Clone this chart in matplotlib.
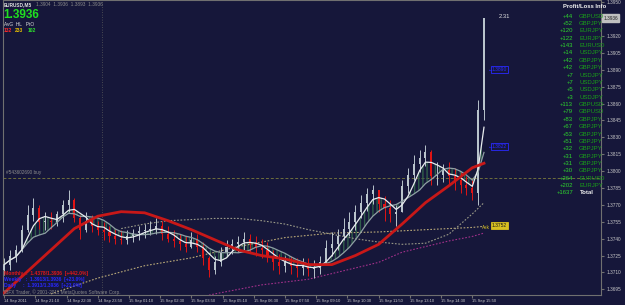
import numpy as np
import pandas as pd
import matplotlib
matplotlib.use("Agg")
import matplotlib.pyplot as plt

# EURUSD M5, sampled as 15-minute bars starting 14 Sep 19:50
highs = [1.3723, 1.3730, 1.3734, 1.3752, 1.3770, 1.3776, 1.3770, 1.3764, 1.3764, 1.3765,
         1.3774, 1.3783, 1.3776, 1.3761, 1.3764, 1.3761, 1.3756, 1.3755, 1.3751, 1.3749,
         1.3748, 1.3748, 1.3749, 1.3751, 1.3753, 1.3756, 1.3758, 1.3756, 1.3751, 1.3748,
         1.3744, 1.3742, 1.3746, 1.3744, 1.3737, 1.3725, 1.3725, 1.3733, 1.3739, 1.3740,
         1.3742, 1.3746, 1.3744, 1.3742, 1.3740, 1.3737, 1.3730, 1.3726, 1.3725, 1.3725,
         1.3723, 1.3723, 1.3723, 1.3721, 1.3725, 1.3739, 1.3746, 1.3749, 1.3758, 1.3764,
         1.3770, 1.3779, 1.3785, 1.3788, 1.3783, 1.3778, 1.3774, 1.3770, 1.3792, 1.3803,
         1.3814, 1.3819, 1.3823, 1.3819, 1.3808, 1.3806, 1.3808, 1.3803, 1.3799, 1.3796,
         1.3792, 1.3863, 1.3936]
lows = [1.3708, 1.3712, 1.3719, 1.3728, 1.3746, 1.3756, 1.3749, 1.3748, 1.3749, 1.3751,
        1.3755, 1.3764, 1.3755, 1.3740, 1.3746, 1.3746, 1.3743, 1.3739, 1.3737, 1.3735,
        1.3735, 1.3735, 1.3737, 1.3739, 1.3741, 1.3743, 1.3744, 1.3739, 1.3737, 1.3733,
        1.3730, 1.3728, 1.3732, 1.3728, 1.3717, 1.3706, 1.3709, 1.3716, 1.3725, 1.3726,
        1.3728, 1.3730, 1.3728, 1.3725, 1.3723, 1.3719, 1.3712, 1.3709, 1.3710, 1.3709,
        1.3706, 1.3708, 1.3707, 1.3705, 1.3709, 1.3717, 1.3725, 1.3730, 1.3739, 1.3742,
        1.3748, 1.3758, 1.3765, 1.3771, 1.3764, 1.3756, 1.3755, 1.3751, 1.3764, 1.3781,
        1.3792, 1.3799, 1.3805, 1.3788, 1.3788, 1.3790, 1.3788, 1.3783, 1.3781, 1.3779,
        1.3774, 1.3770, 1.3845]
closes = [1.3717, 1.3725, 1.3730, 1.3748, 1.3761, 1.3767, 1.3755, 1.3756, 1.3755, 1.3762,
          1.3770, 1.3774, 1.3758, 1.3748, 1.3756, 1.3751, 1.3748, 1.3746, 1.3742, 1.3740,
          1.3739, 1.3742, 1.3745, 1.3747, 1.3748, 1.3749, 1.3751, 1.3744, 1.3740, 1.3738,
          1.3735, 1.3733, 1.3739, 1.3733, 1.3723, 1.3712, 1.3719, 1.3728, 1.3733, 1.3735,
          1.3737, 1.3740, 1.3735, 1.3732, 1.3730, 1.3725, 1.3719, 1.3716, 1.3719, 1.3716,
          1.3714, 1.3716, 1.3713, 1.3714, 1.3719, 1.3732, 1.3735, 1.3742, 1.3749, 1.3755,
          1.3764, 1.3772, 1.3780, 1.3783, 1.3771, 1.3767, 1.3762, 1.3764, 1.3787, 1.3797,
          1.3806, 1.3812, 1.3817, 1.3796, 1.3797, 1.3801, 1.3796, 1.3792, 1.3788, 1.3785,
          1.3781, 1.3854, 1.3936]
first_open = 1.3712

# slow moving average (red) and the dotted ones, read at bar numbers
red_bars = [0, 4, 8, 12, 16, 20, 24, 28, 32, 36, 40, 44, 48, 52, 56, 60, 64, 68, 72, 76, 80, 82]
red_ma = [1.3692, 1.3711, 1.3730, 1.3749, 1.3760, 1.3764, 1.3763, 1.3756, 1.3748, 1.3739, 1.3730,
          1.3725, 1.3722, 1.3717, 1.3717, 1.3725, 1.3735, 1.3753, 1.3772, 1.3787, 1.3803, 1.3807]
tan_bars = [8, 16, 24, 32, 40, 48, 56, 64, 72, 80, 82]
tan_ma = [1.3691, 1.3705, 1.3716, 1.3723, 1.3733, 1.3741, 1.3745, 1.3746, 1.3748, 1.3750, 1.3751]
grey_bars = [20, 24, 28, 32, 36, 40, 44, 48, 52, 56, 60, 64, 68, 72, 76, 80, 82]
grey_ma = [1.3749, 1.3753, 1.3756, 1.3757, 1.3758, 1.3758, 1.3756, 1.3753, 1.3748, 1.3744,
           1.3740, 1.3737, 1.3735, 1.3736, 1.3744, 1.3762, 1.3772]
purple_bars = [30, 36, 44, 52, 60, 64, 68, 72, 76, 80, 82]
purple_ma = [1.3684, 1.3691, 1.3699, 1.3704, 1.3714, 1.3719, 1.3728, 1.3733, 1.3738, 1.3742, 1.3745]

buy_price = 1.3794
day_break = 16.67  # 15 Sep 00:00
price_ticks = [1.3950, 1.3920, 1.3905, 1.3890, 1.3875, 1.3860, 1.3845, 1.3830, 1.3815,
               1.3800, 1.3785, 1.3770, 1.3755, 1.3740, 1.3725, 1.3710, 1.3695]
time_labels = ['14 Sep 2011', '14 Sep 21:10', '14 Sep 22:30', '14 Sep 23:50', '15 Sep 01:10',
               '15 Sep 02:30', '15 Sep 03:50', '15 Sep 05:10', '15 Sep 06:30', '15 Sep 07:50',
               '15 Sep 09:10', '15 Sep 10:30', '15 Sep 11:50', '15 Sep 13:10', '15 Sep 14:30',
               '15 Sep 15:50']

pl_values = ['+44', '+52', '+120', '+122', '+143', '+14', '+42', '+42', '+7', '+7', '+5', '+3',
             '+113', '+79', '+83', '+67', '+53', '+51', '+32', '+31', '+31', '+30', '+264', '+202',
             '+1637']
pl_symbols = ['GBPUSD', 'GBPJPY', 'EURJPY', 'EURJPY', 'EURUSD', 'USDJPY', 'GBPJPY', 'GBPJPY',
              'USDJPY', 'USDJPY', 'USDJPY', 'USDJPY', 'GBPUSD', 'GBPUSD', 'GBPJPY', 'GBPJPY',
              'GBPJPY', 'GBPJPY', 'GBPJPY', 'GBPJPY', 'GBPJPY', 'GBPJPY', 'EURUSD', 'EURJPY',
              'Total']

BG = '#16173a'
W, H = 625, 305
plt.rcParams['font.family'] = ['Liberation Sans', 'DejaVu Sans']

fig = plt.figure(figsize=(W / 100, H / 100), dpi=100, facecolor=BG)
ax = fig.add_axes([3 / W, 10 / H, 598 / W, 295 / H], facecolor=BG)

bars = np.arange(len(closes))
opens = [first_open] + closes[:-1]
for i in bars:
    o, c = opens[i], closes[i]
    col = '#e01414' if c < o else '#b9c4cc'
    ax.vlines(i, lows[i], highs[i], color=col, lw=0.7, zorder=3)
    ax.bar(i, max(abs(c - o), 0.00005), bottom=min(o, c), width=0.35, color=col, zorder=3)

# fast averages with hatched band
s = pd.Series(closes)
fast = s.rolling(4, min_periods=1).mean()
slow = s.rolling(8, min_periods=1).mean()
ax.fill_between(bars, fast, slow, facecolor='none', edgecolor='#2f5e4a', hatch='||||', lw=0, zorder=2)
ax.plot(bars, slow, color='#8fa0a4', lw=0.9, zorder=4)
ax.plot(bars, fast, color='#e8ecee', lw=0.9, zorder=4)

ax.plot(red_bars, red_ma, color='#c81818', lw=2.0, zorder=5)
ax.plot(tan_bars, tan_ma, color='#b8a878', lw=0.8, ls=(0, (1.5, 1.5)), zorder=2)
ax.plot(grey_bars, grey_ma, color='#9a9a88', lw=0.8, ls=(0, (1.5, 1.5)), zorder=2)
ax.plot(purple_bars, purple_ma, color='#a0308a', lw=0.8, ls=(0, (1.5, 1.5)), zorder=2)

ax.axhline(buy_price, color='#6e6e3c', lw=0.7, ls=(0, (3, 2)), zorder=1)
ax.axvline(day_break, color='#5a5a5a', lw=0.6, ls=(0, (1, 2)), zorder=1)
ax.text(0.3, buy_price + 0.00025, '#543602690 buy', color='#8c8c8c', fontsize=3.4, va='bottom')

# order markers
ax.text(83.3, 1.3890, '1.3890', color='#2a2aff', fontsize=3.6, va='center',
        bbox=dict(boxstyle='square,pad=0.2', fc='none', ec='#2a2aff', lw=0.6))
ax.text(82.6, 1.3890, '\u2190', color='#2a2aff', fontsize=3.6, va='center')
ax.text(83.3, 1.3822, '1.3822', color='#2a2aff', fontsize=3.6, va='center',
        bbox=dict(boxstyle='square,pad=0.2', fc='none', ec='#2a2aff', lw=0.6))
ax.text(82.6, 1.3822, '\u2190', color='#2a2aff', fontsize=3.6, va='center')
ax.text(83.3, 1.3752, '1.3752', color='#1a1a1a', fontsize=3.6, va='center',
        bbox=dict(boxstyle='square,pad=0.2', fc='#d8c020', ec='#d8c020', lw=0.6))
ax.text(81.6, 1.3750, 'Ask', color='#d8c020', fontsize=3.4, va='center')
ax.text(84.5, 1.3937, '2.31', color='#e0e0e0', fontsize=4.2, va='center')

ax.set_xlim(-0.2, 102.0)
ax.set_ylim(1.3690, 1.3952)
for sp in ax.spines.values():
    sp.set_color('#707070')
    sp.set_linewidth(0.8)

ax.yaxis.tick_right()
ax.set_yticks(price_ticks)
ax.set_yticklabels([f'{p:.4f}' for p in price_ticks])
ax.tick_params(axis='y', colors='#707070', labelcolor='#c8c8c8', labelsize=3.4, length=2, pad=2)

ax.set_xticks([k * 16 / 3 for k in range(len(time_labels))])
ax.set_xticklabels(time_labels)
ax.tick_params(axis='x', colors='#707070', labelcolor='#c8c8c8', labelsize=3.0, length=2, pad=1.2)
for lab in ax.get_xticklabels():
    lab.set_ha('left')

# current price tag
ax.text(102.4, 1.3936, '1.3936', color='#202020', fontsize=3.4, va='center', clip_on=False,
        bbox=dict(boxstyle='square,pad=0.25', fc='#c0c0c0', ec='#c0c0c0'))


def ftxt(x, y, s, **kw):
    kw.setdefault('va', 'center')
    fig.text(x / W, 1 - y / H, s, **kw)


ftxt(4, 5, 'EURUSD,M5', color='#e0e0e0', fontsize=3.4, fontweight='bold')
ftxt(36, 5, '1.3904  1.3936  1.3893  1.3936', color='#8a8a8a', fontsize=3.4)
ftxt(3, 15, '1.3936', color='#20e020', fontsize=8.5, fontweight='bold')
ftxt(4, 24, 'AvG  HL   PtO', color='#e0e0e0', fontsize=3.4)
ftxt(4, 30, '132', color='#ff2a2a', fontsize=3.6, fontweight='bold')
ftxt(15, 30, '233', color='#e8c000', fontsize=3.6, fontweight='bold')
ftxt(28, 30, '102', color='#2ee02e', fontsize=3.6, fontweight='bold')

ftxt(563, 7, 'Profit/Loss Info', color='#f0f0f0', fontsize=4.2, fontweight='bold')
for k, (v, sym) in enumerate(zip(pl_values, pl_symbols)):
    y = 16 + k * 7.375
    ftxt(573, y, v, color='#2ed42e', fontsize=4.3, ha='right')
    if sym == 'Total':
        ftxt(580, y, sym, color='#f0f0f0', fontsize=4.3, fontweight='bold')
    else:
        ftxt(579, y, sym, color='#1a9e1a', fontsize=4.3)

ftxt(4, 274, 'Monthly  :  1.4378/1.3936  [+442.0%]', color='#e01818', fontsize=3.6, fontweight='bold')
ftxt(4, 279, 'Weekly   :  1.3913/1.3936  [+23.0%]', color='#2828ff', fontsize=3.6, fontweight='bold')
ftxt(4, 285, 'Daily     :  1.3913/1.3936  [+23.0%]', color='#2828ff', fontsize=3.6, fontweight='bold')
ftxt(4, 292, 'IBFX Trader, \u00a9 2001-2011 MetaQuotes Software Corp.', color='#8a8a8a', fontsize=3.4)

fig.savefig('out.png', dpi=100, facecolor=BG)
